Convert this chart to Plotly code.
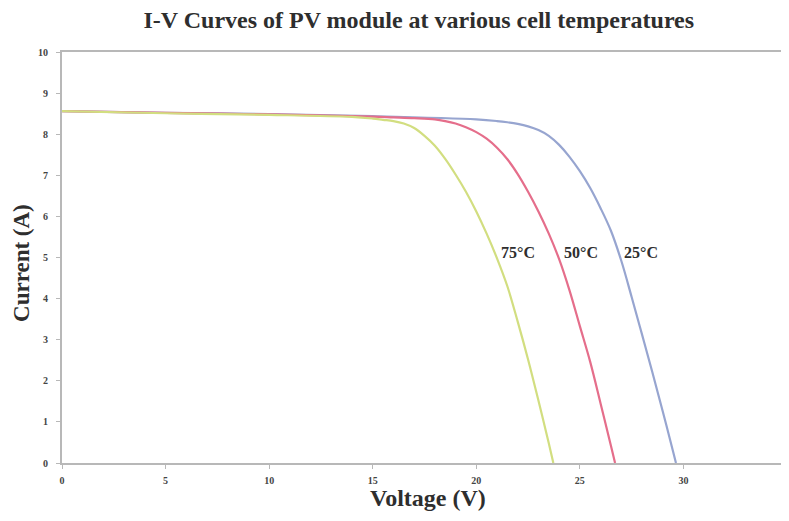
import plotly.graph_objects as go

# Data
v_75 = [0, 5, 10, 14, 15, 15.5, 16, 16.5, 17, 17.5, 18, 18.5, 19, 19.5, 20, 20.5, 21, 21.5, 22, 22.5, 23, 23.5, 23.72]
i_75 = [8.56, 8.51, 8.47, 8.42, 8.38, 8.35, 8.32, 8.26, 8.15, 7.96, 7.72, 7.40, 7.02, 6.60, 6.12, 5.58, 4.98, 4.30, 3.44, 2.52, 1.52, 0.48, 0.0]

v_50 = [0, 5, 10, 15, 16, 17, 18, 18.5, 19, 19.5, 20, 20.5, 21, 21.5, 22, 22.5, 23, 23.5, 24, 24.5, 25, 25.5, 26, 26.5, 26.7]
i_50 = [8.56, 8.52, 8.48, 8.43, 8.41, 8.39, 8.36, 8.32, 8.26, 8.17, 8.05, 7.89, 7.67, 7.39, 7.03, 6.60, 6.12, 5.58, 4.96, 4.20, 3.33, 2.46, 1.45, 0.42, 0.0]

v_25 = [0, 5, 10, 15, 20, 21, 21.5, 22, 22.5, 23, 23.5, 24, 24.5, 25, 25.5, 26, 26.5, 27, 27.5, 28, 28.5, 29, 29.5, 29.64]
i_25 = [8.56, 8.52, 8.49, 8.44, 8.36, 8.32, 8.29, 8.25, 8.19, 8.10, 7.96, 7.74, 7.45, 7.10, 6.69, 6.20, 5.65, 4.92, 4.04, 3.13, 2.21, 1.26, 0.28, 0.0]

labels = ["75°C", "50°C", "25°C"]
label_v = [22.0, 25.04, 27.97]
label_i = [5.13, 5.13, 5.13]

x_ticks = [0, 5, 10, 15, 20, 25, 30, 35]
y_ticks = [0, 1, 2, 3, 4, 5, 6, 7, 8, 9, 10]

serif = "Liberation Serif, Times New Roman, serif"
txt = "#2e2e2e"

fig = go.Figure()
series = [(v_25, i_25, "#97a5d0"), (v_50, i_50, "#e56e8b"), (v_75, i_75, "#d2de80")]
for vx, iy, col in series:
    fig.add_trace(go.Scatter(x=vx, y=iy, mode="lines",
                             line=dict(color=col, width=2.2, shape="spline", smoothing=1.0),
                             showlegend=False, hoverinfo="skip"))

for t, vx, iy in zip(labels, label_v, label_i):
    fig.add_annotation(x=vx, y=iy, text="<b>" + t + "</b>", showarrow=False,
                       font=dict(family=serif, size=16, color=txt))

fig.add_annotation(x=0.505, y=-0.085, xref="paper", yref="paper", showarrow=False,
                   xanchor="center", yanchor="middle", text="<b>Voltage (V)</b>",
                   font=dict(family=serif, size=24, color=txt))
fig.add_annotation(x=-0.055, y=0.487, xref="paper", yref="paper", showarrow=False,
                   xanchor="center", yanchor="middle", textangle=-90, text="<b>Current (A)</b>",
                   font=dict(family=serif, size=23, color=txt))

# page body has an 8px default margin, so the figure is sized/offset to compensate
fig.update_layout(
    width=781, height=513,
    margin=dict(l=54, r=2, t=44, b=58, autoexpand=False),
    paper_bgcolor="white", plot_bgcolor="white",
    title=dict(text="<b>I-V Curves of PV module at various cell temperatures</b>",
               x=0.526, xanchor="center", y=0.977, yanchor="middle",
               font=dict(family=serif, size=24, color=txt)),
    font=dict(family=serif, color=txt),
)
fig.update_xaxes(range=[0, 35], tickvals=x_ticks, ticktext=["<b>%d</b>" % v for v in x_ticks],
                 showgrid=False, zeroline=False, showline=True, linecolor="#b8b8b8", linewidth=2,
                 mirror=True, ticks="outside", ticklen=4, tickcolor="#b8b8b8", automargin=False,
                 ticklabeloverflow="allow", ticklabelstandoff=3,
                 tickfont=dict(family=serif, size=10, color="#444444"))
fig.update_yaxes(range=[0, 10], tickvals=y_ticks, ticktext=["<b>%d</b>" % v for v in y_ticks],
                 showgrid=False, zeroline=False, showline=True, linecolor="#b8b8b8", linewidth=2,
                 mirror=True, ticks="outside", ticklen=4, tickcolor="#b8b8b8", automargin=False,
                 ticklabelstandoff=6,
                 tickfont=dict(family=serif, size=10, color="#444444"))

fig.write_html("out.html")
